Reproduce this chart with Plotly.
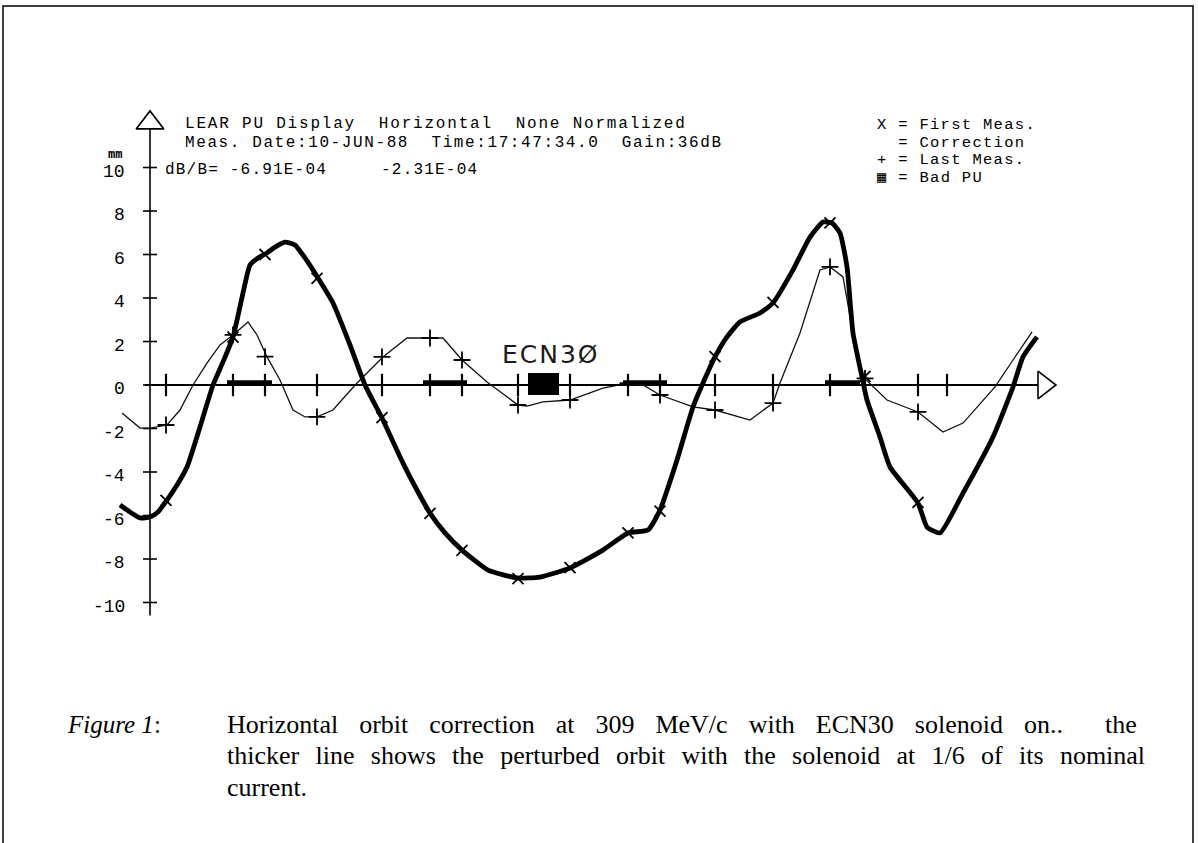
import plotly.graph_objects as go

# ---------------- data (s: position along ring, arbitrary units; y: mm) ----------------
first_s = [-3.0, -2.0, -1.0, 0.0, 0.8, 1.7, 2.7, 3.7, 5.0, 6.3, 7.3, 8.3, 9.3, 10.0, 10.8, 11.7,
           12.5, 13.5, 14.5, 15.5, 16.8, 18.3, 20.0, 21.5, 23.2, 25.3, 26.8, 28.0, 29.5, 31.2,
           33.8, 36.7, 39.0, 42.0, 45.3, 47.8, 49.8, 51.0, 52.7, 54.3, 55.3, 56.5, 57.7, 59.0,
           61.0, 62.3, 64.3, 66.0, 67.3, 68.2, 69.0, 69.7, 70.3, 71.2, 71.7, 73.0, 74.0, 76.8,
           77.7, 79.0, 81.3, 84.3, 86.3, 87.3, 88.7]
first_y = [-5.52, -5.84, -6.11, -6.07, -5.84, -5.29, -4.60, -3.77, -1.93, 0.0, 1.06, 2.21, 4.23,
           5.52, 5.84, 6.07, 6.34, 6.57, 6.44, 5.84, 4.92, 3.77, 1.84, 0.0, -1.52, -3.59, -4.92,
           -5.89, -6.80, -7.59, -8.51, -8.87, -8.83, -8.41, -7.59, -6.80, -6.67, -5.75, -3.45,
           -1.01, 0.09, 1.29, 2.21, 2.90, 3.31, 3.77, 5.29, 6.80, 7.49, 7.45, 6.99, 5.43, 2.39,
           0.37, -0.69, -2.39, -3.77, -5.43, -6.53, -6.80, -4.97, -2.39, -0.09, 1.29, 2.21]

last_s = [-2.8, -1.0, 0.0, 1.7, 3.0, 4.3, 5.7, 7.0, 8.3, 9.8, 10.7, 11.7, 13.0, 14.3, 15.5, 16.7,
          18.3, 20.7, 23.3, 25.7, 28.0, 29.3, 31.2, 33.7, 36.8, 37.7, 39.3, 42.0, 45.3, 47.8,
          49.3, 51.0, 54.3, 56.5, 60.0, 62.3, 63.0, 65.0, 67.0, 68.0, 69.3, 70.3, 71.3, 72.3,
          73.7, 76.8, 79.3, 81.3, 84.5, 86.3, 88.2]
last_y = [-1.29, -1.98, -1.98, -1.84, -1.15, 0.0, 1.01, 1.84, 2.30, 2.90, 2.30, 1.29, 0.23, -1.15,
          -1.47, -1.47, -1.15, 0.09, 1.29, 2.16, 2.16, 2.16, 1.15, 0.14, -0.92, -0.97, -0.78,
          -0.69, -0.14, 0.09, 0.0, -0.46, -1.01, -1.15, -1.61, -0.83, 0.09, 2.39, 5.29, 5.43,
          4.97, 2.39, 0.37, -0.09, -0.69, -1.24, -2.16, -1.75, -0.09, 1.15, 2.44]

pu_s = [1.6, 8.3, 11.5, 16.7, 23.2, 28.0, 31.2, 36.8, 42.0, 47.8, 51.0, 56.5, 62.3, 68.0,
        71.5, 76.8, 79.7]
first_pu_y = [-5.3, 2.2, 6.0, 4.9, -1.5, -5.9, -7.6, -8.9, -8.4, -6.8, -5.8, 1.3, 3.8, 7.45,
              0.4, -5.4, None]
last_pu_y = [-1.84, 2.3, 1.3, -1.47, 1.29, 2.16, 1.15, -0.92, -0.69, 0.09, -0.46, -1.15, -0.83,
             5.43, 0.3, -1.24, None]

corr_from = [7.7, 27.3, 47.3, 67.5]
corr_to = [12.2, 31.7, 51.7, 71.0]
corr_val = [0.12, 0.12, 0.12, 0.12]

bad_pu_s = [39.3]

y_ticks = [10, 8, 6, 4, 2, 0, -2, -4, -6, -8, -10]
y_tick_text = ["10", "8", "6", "4", "2", "0", "-2", "-4", "-6", "-8", "-10"]

header_lines = ["LEAR PU Display  Horizontal  None Normalized",
                "Meas. Date:10-JUN-88  Time:17:47:34.0  Gain:36dB",
                "dB/B= -6.91E-04     -2.31E-04"]
legend_lines = ["X = First Meas.", "  = Correction", "+ = Last Meas.", "\u25a6 = Bad PU"]
caption_lines = ["Horizontal orbit correction at 309 MeV/c with ECN30 solenoid on..  the",
                 "thicker line shows the perturbed orbit with the solenoid at 1/6 of its nominal",
                 "current."]

# ---------------- figure geometry ----------------
W, H = 1198, 843
X_RANGE = [-15.0, 104.8]          # y-axis at px 150, 10 px per unit
Y_RANGE = [-21.0575, 17.7011]     # 0 at px 385, 21.75 px per mm
MONO = "Liberation Mono, DejaVu Sans Mono, monospace"
SERIF = "Liberation Serif, Times New Roman, serif"


def px(xp, yp):
    return xp / W, 1 - yp / H


def mono(t, spacing=1.4):
    return '<span style="letter-spacing:{}px">{}</span>'.format(spacing, t.replace(" ", "&nbsp;"))


fig = go.Figure()

# axes lines
fig.add_trace(go.Scatter(x=[0, 0], y=[-10.6, 11.77], mode="lines",
                         line=dict(color="black", width=1.6), hoverinfo="skip"))
fig.add_trace(go.Scatter(x=[-0.5, 88.8], y=[0, 0], mode="lines",
                         line=dict(color="black", width=1.8), hoverinfo="skip"))
# arrow heads
fig.add_trace(go.Scatter(x=[0], y=[12.05], mode="markers", hoverinfo="skip",
                         marker=dict(symbol="triangle-up-open", size=24, color="black",
                                     line=dict(width=1.6, color="black"))))
fig.add_trace(go.Scatter(x=[89.4], y=[0], mode="markers", hoverinfo="skip",
                         marker=dict(symbol="triangle-right-open", size=24, color="black",
                                     line=dict(width=1.6, color="black"))))
# y ticks
fig.add_trace(go.Scatter(x=[0] * len(y_ticks), y=y_ticks, mode="markers", hoverinfo="skip",
                         marker=dict(symbol="line-ew", size=10, color="black",
                                     line=dict(width=1.6, color="black"))))
# PU ticks on x axis
fig.add_trace(go.Scatter(x=pu_s, y=[0] * len(pu_s), mode="markers", hoverinfo="skip",
                         marker=dict(symbol="line-ns", size=16, color="black",
                                     line=dict(width=2.2, color="black"))))
# corrections
cx, cy = [], []
for a, b, v in zip(corr_from, corr_to, corr_val):
    cx += [a, b, None]
    cy += [v, v, None]
fig.add_trace(go.Scatter(x=cx, y=cy, mode="lines", hoverinfo="skip",
                         line=dict(color="black", width=4.5)))
# bad PU box
fig.add_trace(go.Bar(x=bad_pu_s, y=[1.0] * len(bad_pu_s), base=[-0.46] * len(bad_pu_s),
                     width=3.1, marker=dict(color="black", line=dict(width=0)),
                     hoverinfo="skip"))

# last measurement (thin)
fig.add_trace(go.Scatter(x=last_s, y=last_y, mode="lines", hoverinfo="skip",
                         line=dict(color="#111111", width=1.3)))
fig.add_trace(go.Scatter(x=pu_s, y=last_pu_y, mode="markers", hoverinfo="skip",
                         marker=dict(symbol="cross-thin-open", size=12, color="black",
                                     line=dict(width=1.8, color="black"))))
# first measurement (thick)
fig.add_trace(go.Scatter(x=first_s, y=first_y, mode="lines", hoverinfo="skip",
                         line=dict(color="black", width=4.8, shape="spline", smoothing=0.5)))
fig.add_trace(go.Scatter(x=pu_s, y=first_pu_y, mode="markers", hoverinfo="skip",
                         marker=dict(symbol="x-thin-open", size=11, color="black",
                                     line=dict(width=1.8, color="black"))))

annotations = []
# y tick labels
for v, t in zip(y_ticks, y_tick_text):
    annotations.append(dict(x=-2.3, y=v, xref="x", yref="y", text=t, showarrow=False,
                            xanchor="right", yanchor="middle", yshift=-4,
                            font=dict(family=MONO, size=18, color="black")))
annotations.append(dict(x=-2.6, y=y_ticks[0], xref="x", yref="y", text="<b>mm</b>",
                        showarrow=False, xanchor="right", yanchor="middle", yshift=14,
                        font=dict(family="DejaVu Sans Mono", size=12, color="#000000")))
# header text
for (xp, yp), t, ls in zip([(183, 124), (183, 142.5), (163, 170)], header_lines, [1.8, 1.6, 1.2]):
    xx, yy = px(xp, yp)
    annotations.append(dict(x=xx, y=yy, xref="paper", yref="paper", text=mono(t, ls),
                            showarrow=False, xanchor="left", yanchor="middle",
                            font=dict(family=MONO, size=16, color="black")))
# legend text
for i, t in enumerate(legend_lines):
    xx, yy = px(875, 125 + 17.5 * i)
    annotations.append(dict(x=xx, y=yy, xref="paper", yref="paper", text=mono(t, 1.3),
                            showarrow=False, xanchor="left", yanchor="middle",
                            font=dict(family=MONO, size=15.5, color="black")))
# handwritten solenoid label
annotations.append(dict(x=bad_pu_s[0] + 0.8, y=1.4, xref="x", yref="y",
                        text='<span style="letter-spacing:2px">ECN3\u00d8</span>',
                        showarrow=False, xanchor="center", yanchor="middle",
                        font=dict(family="DejaVu Sans", size=25, color="#1a1a1a")))
# caption
xx, yy = px(65, 724)
annotations.append(dict(x=xx, y=yy, xref="paper", yref="paper", text="<i>Figure 1</i>:",
                        showarrow=False, xanchor="left", yanchor="middle",
                        font=dict(family=SERIF, size=25, color="black")))
cap_word_space = [14.5, 9.8, 0]
for i, (t, ws) in enumerate(zip(caption_lines, cap_word_space)):
    xx, yy = px(225, 724 + 31.5 * i)
    annotations.append(dict(x=xx, y=yy, xref="paper", yref="paper",
                            text='<span style="word-spacing:{}px">{}</span>'.format(ws, t),
                            showarrow=False, xanchor="left", yanchor="middle",
                            font=dict(family=SERIF, size=26, color="black")))

shapes = [dict(type="path", xref="paper", yref="paper",
               path="M {},{} L {},{} L {},{} L {},{}".format(*px(3, 843), *px(3, 6),
                                                             *px(1193, 6), *px(1193, 843)),
               line=dict(color="black", width=1.5))]

fig.update_layout(
    width=W, height=H, autosize=False,
    margin=dict(l=0, r=0, t=0, b=0, pad=0),
    paper_bgcolor="white", plot_bgcolor="white",
    showlegend=False, bargap=0,
    xaxis=dict(range=X_RANGE, visible=False, fixedrange=True),
    yaxis=dict(range=Y_RANGE, visible=False, fixedrange=True),
    annotations=annotations, shapes=shapes,
)

fig.write_html("out.html")
